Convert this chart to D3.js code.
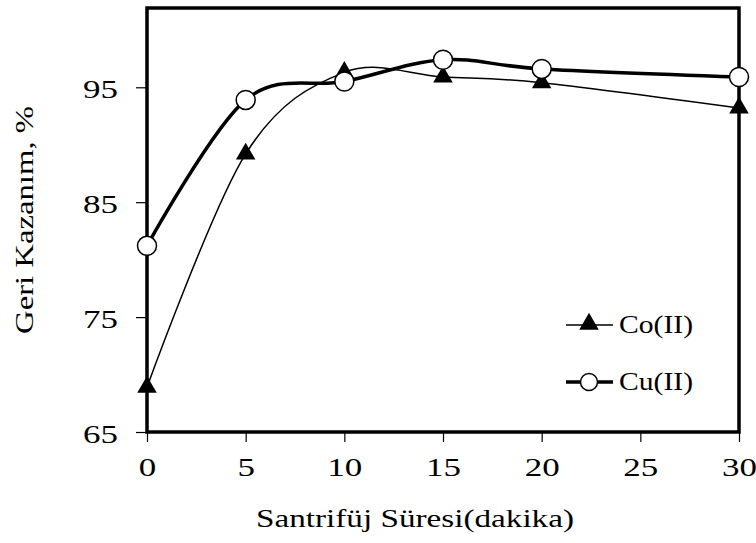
<!DOCTYPE html>
<html>
<head>
<meta charset="utf-8">
<script src="https://cdn.jsdelivr.net/npm/d3@7"></script>
<style>
  body { margin: 0; background: #fff; }
  text { font-family: "Liberation Serif", "Times New Roman", serif; fill: #000; }
</style>
</head>
<body>
<script>
const width = 756;
const height = 543;

// Data
const times = [0, 5, 10, 15, 20, 30];
const coValues = [68.9, 89.2, 96.3, 95.9, 95.4, 93.2];
const cuValues = [81.2, 93.9, 95.5, 97.4, 96.6, 95.9];
const xTicks = [0, 5, 10, 15, 20, 25, 30];
const yTicks = [65, 75, 85, 95];

const margin = { top: 8, right: 17, bottom: 111, left: 147 };
const stretch = 1.4; // the reference text is wider than plain Times

const svg = d3.select("body").append("svg")
    .attr("width", width)
    .attr("height", height);

const x = d3.scaleLinear().domain([0, 30]).range([margin.left, width - margin.right]);
const y = d3.scaleLinear().domain([65, 101.9]).range([height - margin.bottom, margin.top]);

// Axes
svg.append("g")
    .attr("transform", `translate(0,${height - margin.bottom})`)
    .call(d3.axisBottom(x).tickValues(xTicks).tickSize(10))
    .call(g => g.select(".domain").remove())
    .call(g => g.selectAll("line").attr("stroke-width", 1.2))
    .call(g => g.selectAll("text")
        .attr("font-size", 25)
        .attr("y", 44)
        .attr("dy", 0)
        .attr("transform", `scale(${stretch},1)`));

svg.append("g")
    .attr("transform", `translate(${margin.left},0)`)
    .call(d3.axisLeft(y).tickValues(yTicks).tickSize(11))
    .call(g => g.select(".domain").remove())
    .call(g => g.selectAll("line").attr("stroke-width", 1.2))
    .call(g => g.selectAll("text")
        .attr("font-size", 25)
        .attr("x", -29 / stretch)
        .attr("dy", "0.4em")
        .attr("transform", `scale(${stretch},1)`));

// Frame
svg.append("rect")
    .attr("x", margin.left)
    .attr("y", margin.top)
    .attr("width", width - margin.left - margin.right)
    .attr("height", height - margin.top - margin.bottom)
    .attr("fill", "none")
    .attr("stroke", "#000")
    .attr("stroke-width", 3.5);

// Axis titles
svg.append("text")
    .attr("x", 256)
    .attr("y", 527)
    .attr("font-size", 26)
    .attr("textLength", 318)
    .attr("lengthAdjust", "spacingAndGlyphs")
    .text("Santrifüj Süresi(dakika)");

svg.append("text")
    .attr("transform", "translate(33,334) rotate(-90)")
    .attr("font-size", 26)
    .attr("textLength", 228)
    .attr("lengthAdjust", "spacingAndGlyphs")
    .text("Geri Kazanım, %");

const line = d3.line()
    .x(d => x(d[0]))
    .y(d => y(d[1]))
    .curve(d3.curveCatmullRom.alpha(0));

const coData = times.map((t, i) => [t, coValues[i]]);
const cuData = times.map((t, i) => [t, cuValues[i]]);

const tri = d3.symbol().type(d3.symbolTriangle).size(165);

// Co(II) series
svg.append("path")
    .datum(coData)
    .attr("d", line)
    .attr("fill", "none")
    .attr("stroke", "#000")
    .attr("stroke-width", 1.5);

svg.append("g").selectAll("path")
    .data(coData)
    .enter().append("path")
    .attr("d", tri)
    .attr("transform", d => `translate(${x(d[0])},${y(d[1])})`)
    .attr("fill", "#000");

// Cu(II) series
svg.append("path")
    .datum(cuData)
    .attr("d", line)
    .attr("fill", "none")
    .attr("stroke", "#000")
    .attr("stroke-width", 3.5);

svg.append("g").selectAll("circle")
    .data(cuData)
    .enter().append("circle")
    .attr("cx", d => x(d[0]))
    .attr("cy", d => y(d[1]))
    .attr("r", 9.5)
    .attr("fill", "#fff")
    .attr("stroke", "#000")
    .attr("stroke-width", 1.5);

// Legend
const legend = svg.append("g");
const legendItems = [
    { label: "Co(II)", y: 325, width: 1.5, marker: "tri" },
    { label: "Cu(II)", y: 382, width: 3.5, marker: "circle" }
];
legendItems.forEach(item => {
    legend.append("line")
        .attr("x1", 566).attr("x2", 613)
        .attr("y1", item.y).attr("y2", item.y)
        .attr("stroke", "#000")
        .attr("stroke-width", item.width);
    if (item.marker === "tri") {
        legend.append("path")
            .attr("d", tri)
            .attr("transform", `translate(589,${item.y - 1})`)
            .attr("fill", "#000");
    } else {
        legend.append("circle")
            .attr("cx", 589).attr("cy", item.y).attr("r", 8.5)
            .attr("fill", "#fff").attr("stroke", "#000").attr("stroke-width", 1.5);
    }
    legend.append("text")
        .attr("x", 619)
        .attr("y", item.y + 8)
        .attr("font-size", 26)
        .attr("textLength", 74)
        .attr("lengthAdjust", "spacingAndGlyphs")
        .text(item.label);
});
</script>
</body>
</html>
